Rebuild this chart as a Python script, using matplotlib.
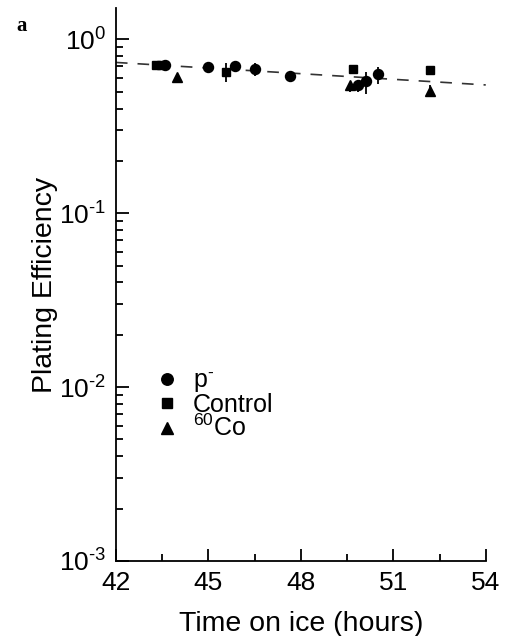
import matplotlib
matplotlib.use("Agg")
import matplotlib.pyplot as plt
from matplotlib.ticker import FixedLocator, LogLocator, NullFormatter
import numpy as np

plt.rcParams['font.family'] = ['Liberation Sans', 'DejaVu Sans']
plt.rcParams['mathtext.fontset'] = 'custom'
plt.rcParams['mathtext.rm'] = 'Liberation Sans'
plt.rcParams['mathtext.it'] = 'Liberation Sans:italic'
plt.rcParams['mathtext.bf'] = 'Liberation Sans:bold'

# p- (circles)
p_time = [43.60, 44.99, 45.88, 46.51, 47.66, 49.86, 50.11, 50.49]
p_pe = [0.711, 0.696, 0.705, 0.672, 0.615, 0.545, 0.578, 0.632]
p_err_lo = [0.0, 0.0, 0.0, 0.06, 0.0, 0.05, 0.09, 0.075]
p_err_hi = [0.0, 0.0, 0.0, 0.06, 0.0, 0.0, 0.07, 0.065]

# Control (squares)
c_time = [43.31, 43.47, 45.58, 49.68, 52.20]
c_pe = [0.711, 0.711, 0.651, 0.675, 0.666]
c_err_lo = [0.0, 0.0, 0.08, 0.0, 0.0]
c_err_hi = [0.0, 0.0, 0.077, 0.0, 0.0]

# 60Co (triangles)
t_time = [43.97, 49.60, 52.20]
t_pe = [0.607, 0.546, 0.507]
t_err_lo = [0.03, 0.05, 0.04]
t_err_hi = [0.0, 0.0, 0.04]

# dashed fit line
fit_time = [42.0, 54.0]
fit_pe = [0.737, 0.547]

y_ticks = [1e-3, 1e-2, 1e-1, 1e0]
y_tick_labels = ['$10^{\\text{-}3}$', '$10^{\\text{-}2}$', '$10^{\\text{-}1}$', '$10^{0}$']
x_ticks = [42, 45, 48, 51, 54]

fig = plt.figure(figsize=(5.06, 6.36), dpi=100)
ax = fig.add_axes([0.229, 0.118, 0.731, 0.869])

ax.plot(fit_time, fit_pe, color='#333333', lw=1.2, dashes=(7, 6), zorder=1)

for t, v, lo, hi in [(p_time, p_pe, p_err_lo, p_err_hi),
                     (c_time, c_pe, c_err_lo, c_err_hi),
                     (t_time, t_pe, t_err_lo, t_err_hi)]:
    ax.errorbar(t, v, yerr=[lo, hi], fmt='none', ecolor='black',
                elinewidth=1.3, capsize=0, zorder=2)

ax.plot(p_time, p_pe, 'o', color='black', ms=7.2, zorder=3, label='p$^{\\text{-}}$')
ax.plot(c_time, c_pe, 's', color='black', ms=6.3, zorder=3, label='Control')
ax.plot(t_time, t_pe, '^', color='black', ms=7.5, zorder=3, label='$^{60}$Co')

ax.set_yscale('log')
ax.set_xlim(42, 54)
ax.set_ylim(1e-3, 1.51)

ax.xaxis.set_major_locator(FixedLocator(x_ticks))
ax.xaxis.set_minor_locator(FixedLocator([43.5, 46.5, 49.5, 52.5]))
ax.yaxis.set_minor_locator(LogLocator(base=10, subs=np.arange(2, 10), numticks=20))
ax.yaxis.set_minor_formatter(NullFormatter())
ax.set_yticks(y_ticks)
ax.set_yticklabels(y_tick_labels)

for s in ['top', 'right']:
    ax.spines[s].set_visible(False)
for s in ['left', 'bottom']:
    ax.spines[s].set_linewidth(1.3)

ax.tick_params(which='major', direction='in', length=9, width=1.3, labelsize=19, pad=7)
ax.tick_params(which='minor', direction='in', length=5, width=1.3)
ax.tick_params(axis='y', which='both', right=False)
ax.tick_params(axis='x', which='both', top=False)

ax.set_xlabel('Time on ice (hours)', fontsize=20.5, labelpad=12)
ax.set_ylabel('Plating Efficiency', fontsize=20.5, labelpad=1)

leg = ax.legend(loc='upper left', bbox_to_anchor=(0.07, 0.37), frameon=False,
                fontsize=18, handletextpad=0.55, labelspacing=-0.08,
                handlelength=1.0, borderpad=0, markerscale=1.15)

fig.text(0.033, 0.952, 'a', fontsize=15, fontweight='bold', family='Liberation Serif')

fig.savefig('out.png', dpi=100)
